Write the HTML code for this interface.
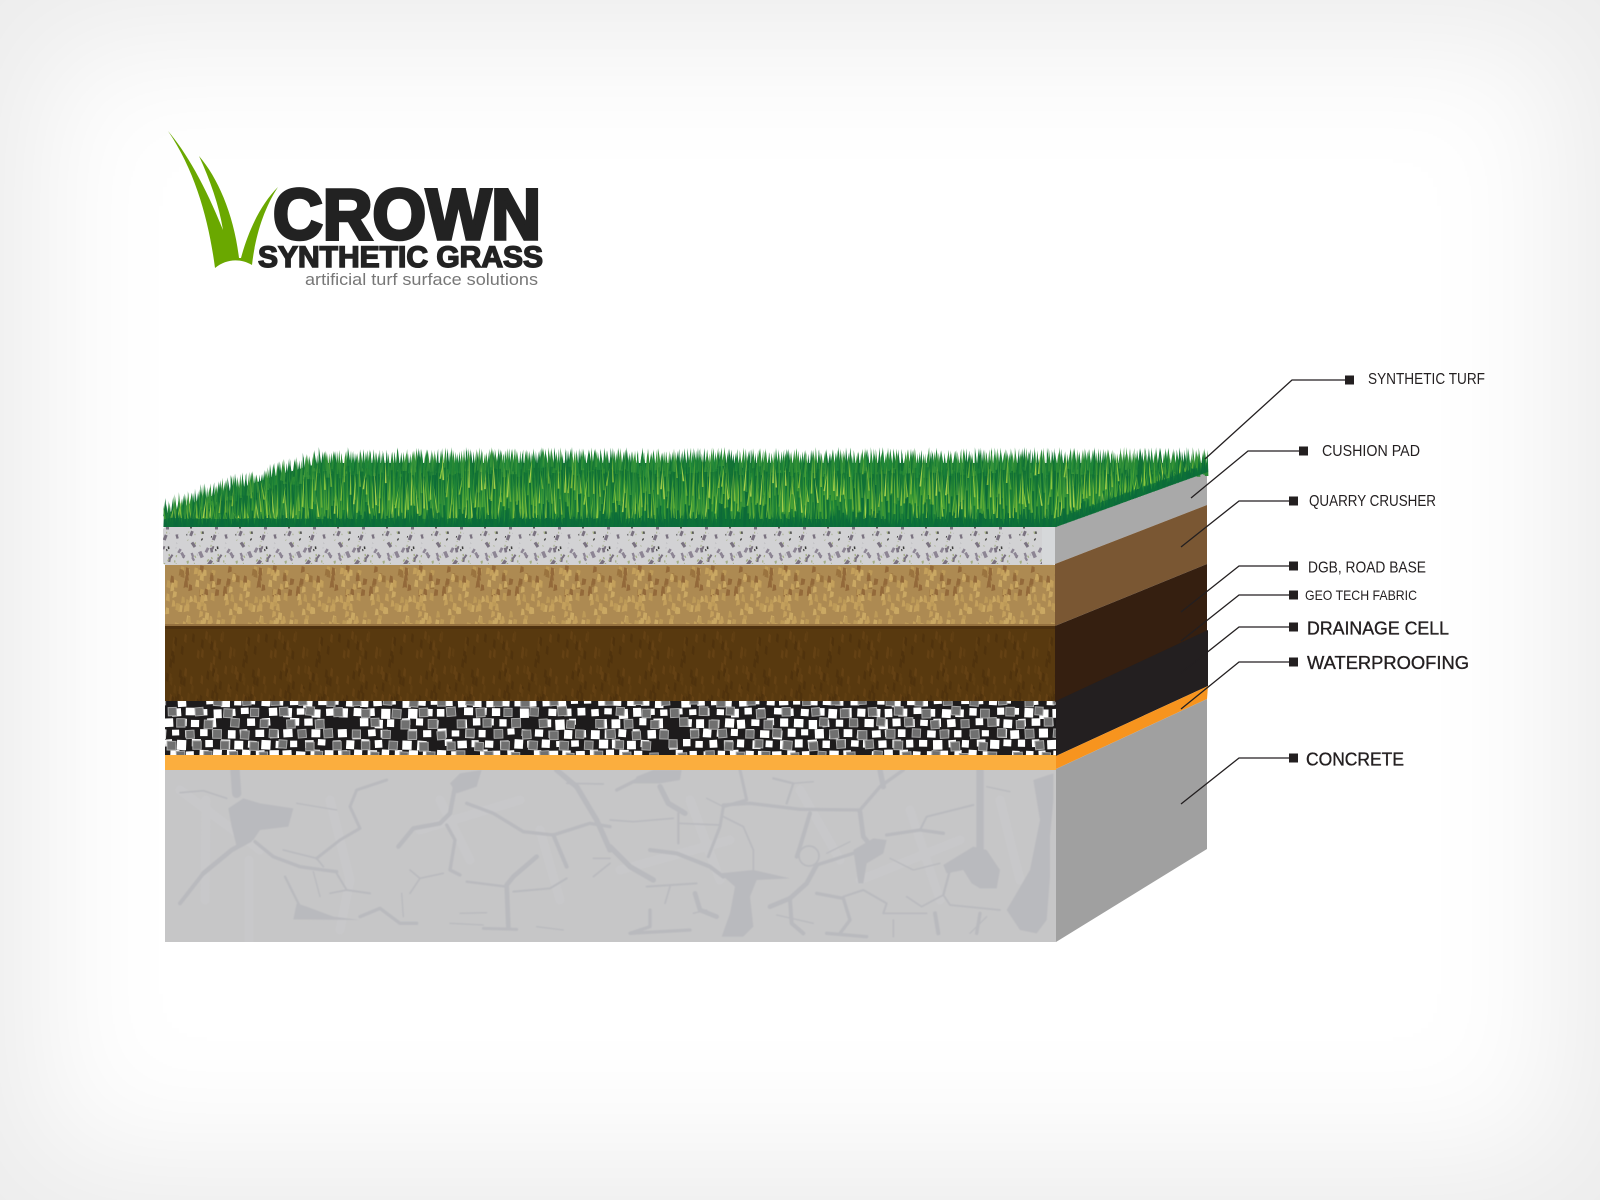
<!DOCTYPE html>
<html><head><meta charset="utf-8"><title>Crown Synthetic Grass</title>
<style>
html,body{margin:0;padding:0;background:#fff;width:1600px;height:1200px;overflow:hidden}
svg{display:block}
text{font-family:"Liberation Sans",sans-serif;fill:#231f20}
</style></head><body>
<svg xmlns="http://www.w3.org/2000/svg" width="1600" height="1200" viewBox="0 0 1600 1200">
<defs>
<filter id="bl" x="-20%" y="-20%" width="140%" height="140%"><feGaussianBlur stdDeviation="65"/></filter>
<filter id="sf" x="-2%" y="-2%" width="104%" height="104%"><feGaussianBlur stdDeviation=".5"/></filter>
<clipPath id="cGrey"><rect x="163" y="527" width="893" height="37"/></clipPath>
<clipPath id="cSoil"><rect x="165" y="565" width="891" height="61"/></clipPath>
<clipPath id="cDark"><rect x="165" y="626" width="891" height="75"/></clipPath>
<clipPath id="cChk"><rect x="165" y="701" width="892" height="54"/></clipPath>
<clipPath id="cConc"><rect x="165" y="770" width="891" height="172"/></clipPath>
</defs>
<rect width="1600" height="1200" fill="#ececec"/>
<rect x="40" y="40" width="1520" height="1120" fill="#fff" filter="url(#bl)"/>

<!-- logo -->
<path d="M168 131 C186 152 205 185 223 230 C219 205 210 180 199 156 C218 178 234 215 239 258 L241 258 C249 228 262 203 278 187 C263 210 255 238 252 265 C240 258 226 259 215 268 C209 222 196 172 168 131Z" fill="#6aa800"/>
<text x="273" y="239" font-size="71" font-weight="700" textLength="268" lengthAdjust="spacingAndGlyphs" style="fill:#222;stroke:#222;stroke-width:3.5">CROWN</text>
<text x="258" y="267" font-size="30" font-weight="700" textLength="285" lengthAdjust="spacingAndGlyphs" style="fill:#222;stroke:#222;stroke-width:1.5">SYNTHETIC GRASS</text>
<text x="305" y="285" font-size="17" textLength="233" lengthAdjust="spacingAndGlyphs" style="fill:#777">artificial turf surface solutions</text>

<!-- front layers -->
<rect x="163" y="527" width="893" height="38" rx="3" fill="#d2d2d4"/>
<g id="grey" clip-path="url(#cGrey)"></g>
<rect x="1042" y="527" width="14" height="37" fill="#d6d8da"/>
<rect x="165" y="565" width="891" height="61" fill="#ad8a52"/>
<g id="soil" clip-path="url(#cSoil)"></g>
<rect x="165" y="624" width="891" height="2" fill="#94703f"/>
<rect x="165" y="626" width="891" height="75" fill="#58390f"/>
<g id="dark" clip-path="url(#cDark)"></g>
<rect x="165" y="701" width="892" height="54" fill="#1d1b1c"/>
<g id="chk" clip-path="url(#cChk)"></g>
<rect x="165" y="755" width="891" height="15" fill="#fbae3e"/>
<rect x="165" y="770" width="891" height="172" fill="#c6c6c7"/>

<!-- concrete cracks -->
<g clip-path="url(#cConc)">
<g filter="url(#sf)">
<g fill="none" stroke="#cdced0" stroke-width="9" opacity=".3" stroke-linecap="round" stroke-linejoin="round">
<path d="M249 860V942M206 800 205 900M330 800 350 880 340 930M440 800 470 860M540 830 560 900M690 800 720 880M800 790 840 860M910 810 940 900M1000 800 1020 880M180 790 260 850M420 830 520 800M620 870 730 840M860 880 960 840"/>
</g>
<g transform="translate(160 770) scale(.33333)" fill="none" stroke="#b9babe" stroke-linecap="round" stroke-linejoin="round">
<path stroke-width="28" d="M225 0 230 70"/>
<path stroke-width="5" d="M60 68 130 62 200 85M370 240 470 265 490 290M850 310 780 325 750 370M780 325 750 300M1220 40 1330 42M1300 265 1350 265M1300 320 1350 280M560 360 510 370"/>
<path stroke-width="4" d="M410 100 530 120M460 305 480 380M725 370 730 440M900 430 980 428M870 460 970 465M1130 470 1210 480"/>
<path stroke-width="14" d="M270 210 215 240 130 310"/>
<path stroke-width="12" d="M130 310 60 400M1180 195 1220 290"/>
<path stroke-width="10" d="M285 215 340 260 420 290 490 300 530 305M600 440 660 415 720 460 770 460M860 165 885 210 870 300 900 315M920 100 1000 130 1090 185 1180 195 1290 160 1350 170"/>
<path stroke-width="9" d="M470 265 540 210 600 175 570 110 590 60 680 30M970 475 1070 478"/>
<path stroke-width="6" d="M530 310 560 360 630 370M1060 365 1170 355 1220 325"/>
<path stroke-width="7" d="M375 320 420 410M920 335 1040 350"/>
<path stroke-width="13" d="M885 50 870 130 840 160 760 175 715 230"/>
<path stroke-width="16" d="M1190 0 1250 50 1310 150 1350 240"/>
<path stroke-width="14" d="M1130 260 1060 320 1040 345 1045 470"/>
<g fill="#b9babe" stroke="none">
<path d="M205 115 250 85 300 100 400 115 385 170 300 180 280 210 230 230 215 170Z"/>
<path d="M410 400 440 410 520 440 600 450 400 448Z"/>
<path d="M900 10 965 0 950 50 890 70 870 40Z"/>
</g></g>
<g transform="translate(610 770) scale(.33333)" fill="none" stroke="#b9babe" stroke-linecap="round" stroke-linejoin="round">
<path stroke-width="10" d="M20 60 80 30M620 285 730 250M120 420 120 470 60 490 240 480M620 370 700 385 720 450 690 490M650 490 770 500M1110 430 1100 490"/>
<path stroke-width="16" d="M150 50 175 100 225 130M0 230 60 290 130 330M810 0 820 50"/>
<path stroke-width="7" d="M205 130 205 220M490 25 550 40 530 100M1020 300 1000 375"/>
<path stroke-width="5" d="M0 150 70 155 190 145M205 160 330 165M340 140 400 170 430 240 430 300M180 350 165 400M820 430 950 430M890 380 935 410 1000 375 1020 405 1170 420M850 450 850 500"/>
<path stroke-width="9" d="M390 0 410 90 340 110 330 170 295 260"/>
<path stroke-width="4" d="M290 85 340 110M550 40 610 35M500 435 610 460M650 250 720 215M840 265 910 300 990 280M1130 50 1200 65"/>
<path stroke-width="10" d="M340 105 420 100 570 118 750 120 810 50 880 0M830 195 930 180 1000 190"/>
<path stroke-width="14" d="M750 125 760 200 785 230M255 370 270 420 320 440M620 285 590 340 540 385 480 410"/>
<path stroke-width="12" d="M600 130 570 230 560 260M120 240 200 250 300 290 340 320M540 390 545 460 580 490M975 430 985 490"/>
<path stroke-width="6" d="M110 350 260 340M930 180 950 140 1090 105M700 380 760 360 830 400 820 430"/>
<path stroke-width="4" d="M250 430 290 420M1080 490 1130 440"/>
<path stroke-width="22" d="M1110 0 1110 240"/>
<circle cx="597" cy="258" r="30" stroke-width="5"/>
<g fill="#b9babe" stroke="none">
<path d="M80 20 130 0 215 0 210 30 150 40 70 40Z"/>
<path d="M330 310 430 300 540 325 440 330 420 380 430 470 400 500 335 500 360 430 375 350Z"/>
<path d="M730 240 790 205 830 210 820 250 770 280 760 340 745 340Z"/>
<path d="M1000 285 1090 230 1130 240 1170 300 1160 355 1110 355 1085 340 1060 300 1010 310Z"/>
<path d="M1190 420 1260 300 1290 150 1270 30 1330 10 1330 90 1320 200 1320 320 1310 450 1280 490 1230 480Z"/>
</g></g></g></g>

<!-- side faces -->
<polygon points="1055,527 1207,472 1207,505 1055,564" fill="#a9a9a9"/>
<polygon points="1055,564 1207,505 1207,564 1055,626" fill="#7a5733"/>
<polygon points="1055,626 1207,564 1207,640 1055,702" fill="#351f10"/>
<polygon points="1056,701 1208,630 1208,686 1056,756" fill="#231f20"/>
<polygon points="1056,756 1208,686 1207,699 1056,769" fill="#f7941e"/>
<polygon points="1056,769 1207,699 1207,849 1056,942" fill="#a0a0a0"/>

<!-- grass -->
<g id="grass"></g>

<!-- connectors -->
<g fill="none" stroke="#231f20" stroke-width="1.3">
<polyline points="1205,459 1292,380 1350,380"/>
<polyline points="1191,498 1248,451 1303,451"/>
<polyline points="1181,547 1239,501 1293,501"/>
<polyline points="1181,612 1239,566 1293,566"/>
<polyline points="1181,641 1239,595 1293,595"/>
<polyline points="1181,673 1239,627 1293,627"/>
<polyline points="1181,709 1239,662 1293,662"/>
<polyline points="1181,804 1239,758 1293,758"/>
</g>
<g fill="#231f20">
<rect x="1345" y="375.500" width="9" height="9"/>
<rect x="1299" y="446.500" width="9" height="9"/>
<rect x="1289" y="496.500" width="9" height="9"/>
<rect x="1289" y="561.500" width="9" height="9"/>
<rect x="1289" y="590.500" width="9" height="9"/>
<rect x="1289" y="622.500" width="9" height="9"/>
<rect x="1289" y="657.500" width="9" height="9"/>
<rect x="1289" y="753.500" width="9" height="9"/>
</g>
<text x="1368" y="384" font-size="15.500" textLength="117" lengthAdjust="spacingAndGlyphs">SYNTHETIC TURF</text>
<text x="1322" y="456" font-size="15.500" textLength="98" lengthAdjust="spacingAndGlyphs">CUSHION PAD</text>
<text x="1309" y="506" font-size="15.500" textLength="127" lengthAdjust="spacingAndGlyphs">QUARRY CRUSHER</text>
<text x="1308" y="572.500" font-size="15.500" textLength="118" lengthAdjust="spacingAndGlyphs">DGB, ROAD BASE</text>
<text x="1305" y="600" font-size="14" textLength="112" lengthAdjust="spacingAndGlyphs">GEO TECH FABRIC</text>
<text x="1307" y="634.500" font-size="18.500" textLength="142" lengthAdjust="spacingAndGlyphs" style="stroke:#231f20;stroke-width:.35">DRAINAGE CELL</text>
<text x="1307" y="669" font-size="18.500" textLength="162" lengthAdjust="spacingAndGlyphs" style="stroke:#231f20;stroke-width:.35">WATERPROOFING</text>
<text x="1306" y="765.500" font-size="18.500" textLength="98" lengthAdjust="spacingAndGlyphs" style="stroke:#231f20;stroke-width:.35">CONCRETE</text>
</svg>
<script>
(function(){
var s=12345;function r(){s=(s*1664525+1013904223)%4294967296;return s/4294967296;}
function pick(a){return a[Math.floor(r()*a.length)];}
function f(n){return n.toFixed(1);}
var P=[[165,500],[185,492],[205,484],[240,474],[262,470],[275,462],[300,456],[320,449],[1207,449]];
function prof(x){for(var i=0;i<P.length-1;i++){if(x<=P[i+1][0]){return P[i][1]+(x-P[i][0])/(P[i+1][0]-P[i][0])*(P[i+1][1]-P[i][1]);}}return 449;}
function bot(x){return x<=1055?527:527-(x-1055)*55/152;}
function blade(x,t,b,w,c,l){return '<path d="M'+f(x-w)+' '+f(b)+'L'+f(x+(l||0)+(r()-.5)*3)+' '+f(t)+'L'+f(x+w)+' '+f(b)+'Z" fill="'+c+'"/>';}
var h='<polygon points="165,527 165,514 205,498 240,488 275,476 320,463 1207,463 1207,472 1055,527" fill="#127235"/>',x,t,b;
/* short dense spikes form the jagged top edge */
for(x=165;x<1207;x+=1.6){t=prof(x)+r()*7-2;h+=blade(x,t,t+18+r()*8,1.8,pick(['#1f8638','#2a8a35','#127235','#35923a','#1a7d36']));}
for(x=165;x<1207;x+=1.4){t=prof(x)+6+r()*20;h+=blade(x,t,bot(x),1.6,pick(['#0c6a38','#127235','#1a7d36','#1f8638','#0f6f38']));}
for(x=165;x<1207;x+=1.9){t=prof(x)+r()*26+5;b=Math.min(t+28+r()*36,bot(x)-8);if(b>t)h+=blade(x,t,b,1,pick(['#2a8a35','#3f9a33','#35923a','#4aa236']),(r()-.5)*4);}
for(x=165;x<1207;x+=3.2){t=prof(x)+r()*46+4;b=Math.min(t+16+r()*26,bot(x)-9);if(b>t)h+=blade(x,t,b,.85,pick(['#7cb93a','#a5cf4a','#63ac38','#8cc63f']),(r()-.5)*5);}
for(x=165;x<1207;x+=1.6){b=bot(x);h+=blade(x,b-7-r()*13,b,1.2,pick(['#0b6b3a','#0d7038']));}
document.getElementById('grass').innerHTML=h;
/* grey: repeating tile, period 49 */
var i,j,c,sz,w,a,row,col;
var tile=[];
for(i=0;i<50;i++){c=pick(['#7a7280','#7a7280','#8d8594','#a3ad85','#a3ad85','#3a3a38','#bdbdc0']);
 sz=c.charAt(1)=='7'||c.charAt(1)=='8'?3+r()*3.5:1.2+r()*1.6;
 tile.push([r()*49,530+r()*34,sz*.55,sz,c,r()*70-35]);}
h='';
for(j=0;j<18;j++){var ox=163+j*49;
 for(i=0;i<tile.length;i++){var q=tile[i];x=ox+q[0];h+='<rect x="'+f(x)+'" y="'+f(q[1])+'" width="'+f(q[2])+'" height="'+f(q[3])+'" fill="'+q[4]+'" transform="rotate('+f(q[5])+' '+f(x)+' '+f(q[1])+')"/>';}
 h+='<rect x="'+f(ox+3)+'" y="527" width="3" height="2.500" fill="#7a7280"/><rect x="'+f(ox+27)+'" y="527" width="2" height="1.500" fill="#555"/>';}
document.getElementById('grey').innerHTML=h;
/* soil: repeating tile, period 73 */
tile=[];
for(i=0;i<85;i++){t=565+r()*58;c=t<592&&r()<.4?pick(['#93693a','#9a733f']):pick(['#c4a05c','#bd9a58','#caa863']);
 tile.push([r()*73,t,c,2+r()*2,5+r()*4]);}
h='';
for(j=0;j<13;j++){ox=165+j*73;
 for(i=0;i<tile.length;i++){q=tile[i];x=ox+q[0];t=q[1];
 h+='<polygon points="'+f(x)+','+f(t)+' '+f(x+q[3])+','+f(t+1)+' '+f(x+3)+','+f(t+q[4])+' '+f(x-1)+','+f(t+7)+'" fill="'+q[2]+'"/>';}}
document.getElementById('soil').innerHTML=h;
/* dark soil */
tile=[];
for(i=0;i<70;i++){tile.push([r()*73,630+r()*70,pick(['#644114','#4f320d','#5f3e12'])]);}
h='<rect x="165" y="626" width="891" height="3" fill="#4e310f"/>';
for(j=0;j<13;j++){ox=165+j*73;
 for(i=0;i<tile.length;i++){q=tile[i];x=ox+q[0];t=q[1];
 h+='<polygon points="'+f(x)+','+f(t)+' '+f(x+2)+','+f(t+2)+' '+f(x+1.5)+','+f(t+10)+' '+f(x-1)+','+f(t+8)+'" fill="'+q[2]+'"/>';}}
document.getElementById('dark').innerHTML=h;
/* checker */
h='';
for(row=0;row<6;row++){for(col=0;col<72;col++){
 x=150+col*14-row*7+r()*2.4-1.2;t=698+row*10.5+r()*2-1;
 if(r()<.08)continue;
 w=7+r()*2.5;a=r()*8-4;
 h+='<rect x="'+f(x)+'" y="'+f(t)+'" width="'+f(w)+'" height="'+f(w*(.8+r()*.3))+'" fill="#fff" transform="rotate('+f(a)+' '+f(x+w/2)+' '+f(t+w/2)+')"/>';
}}
for(row=0;row<6;row++){for(col=0;col<36;col++){
 x=130+col*28+row*9+r()*3-1.5;t=697+row*11+r()*3-1.5;
 if(r()<.08)continue;
 w=8+r()*1;a=r()*10-5;
 h+='<rect x="'+f(x)+'" y="'+f(t)+'" width="'+f(w)+'" height="'+f(w)+'" fill="#707070" stroke="#a5a5a5" stroke-width="1" transform="rotate('+f(a)+' '+f(x+w/2)+' '+f(t+w/2)+')"/>';
}}
document.getElementById('chk').innerHTML=h;
})();
</script>
</body></html>
